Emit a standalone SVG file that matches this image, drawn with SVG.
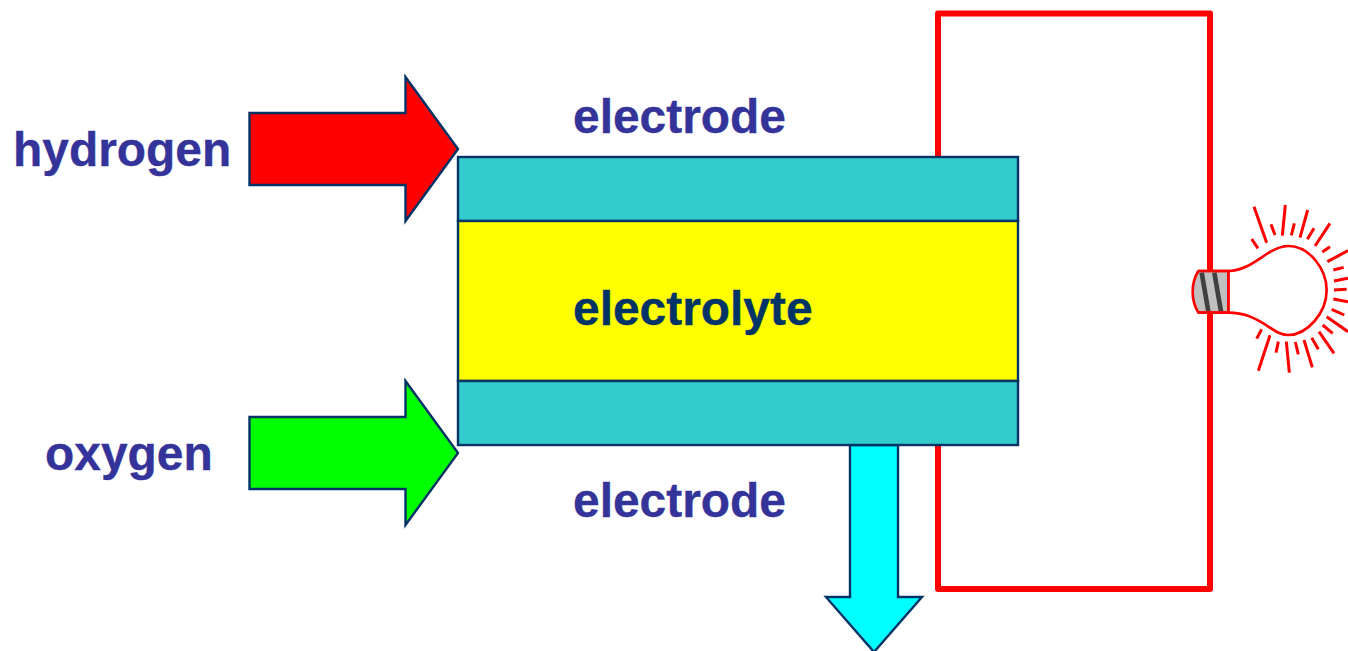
<svg xmlns="http://www.w3.org/2000/svg" width="1348" height="651" viewBox="0 0 1348 651">
<style>
text{font-family:"Liberation Sans",Arial,sans-serif;font-weight:bold;font-size:47.9px;fill:#333399;stroke:#333399;stroke-width:.35px}
.s{stroke:#003366;stroke-width:2.4;stroke-linejoin:miter}
.w{fill:none;stroke:#ff0000;stroke-width:6;stroke-linejoin:round;stroke-linecap:butt}
.r{fill:none;stroke:#ff0000;stroke-width:9;stroke-linecap:butt}
.b{fill:none;stroke:#ff0000;stroke-width:8;stroke-linejoin:round}
.c{fill:none;stroke:#404040;stroke-width:14}
</style>
<rect width="1348" height="651" fill="#ffffff"/>
<g id="connectors">
<path class="w" d="M938 157V13.500H1210V589H938V445"/>
</g>
<g id="hydrogen-arrow">
<polygon class="s" fill="#ff0000" points="249.500,113 405.500,113 405.500,77 458,149 405.500,221 405.500,185 249.500,185"/>
<text x="13" y="166">hydrogen</text>
</g>
<g id="oxygen-arrow">
<polygon class="s" fill="#00ff00" points="249.500,417 405.500,417 405.500,381 458,453 405.500,525 405.500,489 249.500,489"/>
<text x="45" y="470">oxygen</text>
</g>
<g id="output-arrow">
<polygon class="s" fill="#00ffff" points="850,445 898,445 898,597 922,597 874,652 826,597 850,597"/>
</g>
<g id="electrode-top">
<rect class="s" x="458" y="157" width="560" height="64" fill="#33cccc"/>
<text x="573" y="133">electrode</text>
</g>
<g id="electrolyte">
<rect class="s" x="458" y="221" width="560" height="160" fill="#ffff00"/>
<text x="573" y="325" style="fill:#003366;stroke:#003366">electrolyte</text>
</g>
<g id="electrode-bottom">
<rect class="s" x="458" y="381" width="560" height="64" fill="#33cccc"/>
<text x="573" y="517">electrode</text>
</g>
<g id="bulb" transform="translate(1170 190) scale(.33333)">
<path d="M85 243H175V368H85Q68 340 68 305Q68 270 85 243Z" fill="#c0c0c0" stroke="#ff0000" stroke-width="8" stroke-linejoin="round"/>
<path class="c" d="M95 248L115 364M133 248L153 364"/>
<path d="M85 243H175M85 368H175M175 243V368" fill="none" stroke="#ff0000" stroke-width="8"/>
<path class="b" d="M175 243C225 240 255 215 290 192C315 176 335 168 355 168C420 168 470 240 470 300C470 370 410 435 355 435C330 435 310 420 285 403C255 385 225 368 175 368"/>
<path class="r" d="M252 50L290 158M303 103L315 135M346 45L337 137M373 100L364 136M413 60L390 143M432 115L412 148M480 100L435 168M480 170L457 186M534 182L472 215M521 232L490 240M534 265L492 273M530 298L492 300M534 335L490 327M523 375L485 358M534 425L470 380M488 430L458 405M492 490L447 425M445 478L425 443M427 532L402 450M385 493L376 456M358 548L349 455M318 488L325 455M265 542L300 436M260 446L275 418M245 147L264 175"/>
</g>
</svg>
